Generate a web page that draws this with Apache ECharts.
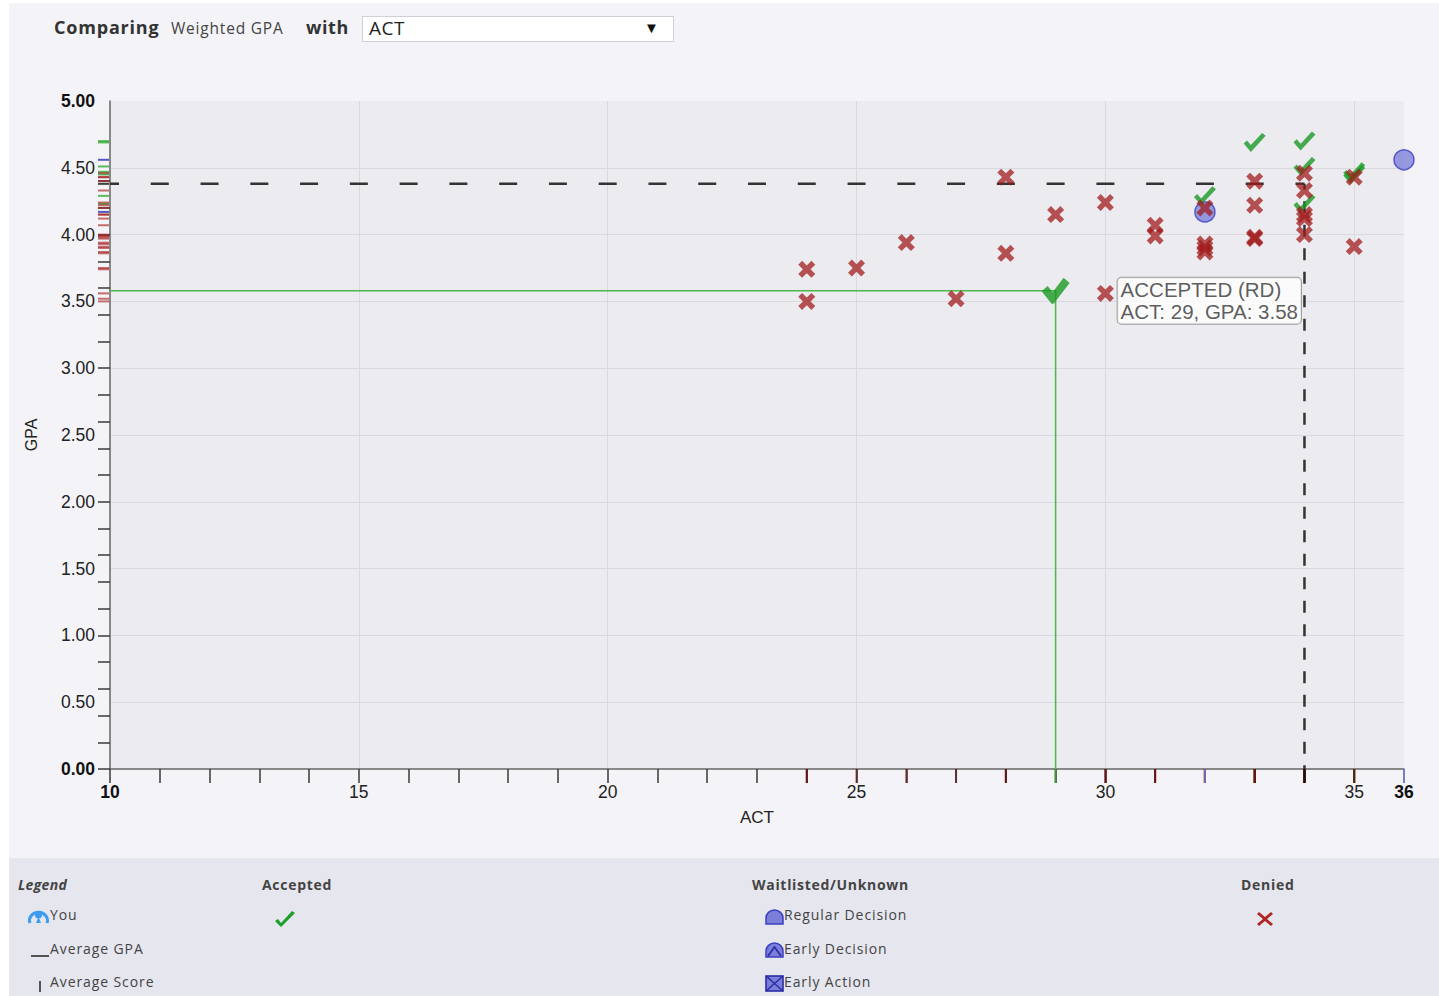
<!DOCTYPE html>
<html>
<head>
<meta charset="utf-8">
<script src="https://cdn.jsdelivr.net/npm/echarts@6/dist/echarts.min.js"></script>
<style>
  html, body { margin:0; padding:0; background:#ffffff; width:1439px; height:996px; overflow:hidden; }
  #page { position:absolute; left:9px; top:3px; width:1430px; height:993px; background:#f4f4f8; }
  #chart { position:absolute; left:0; top:0; width:1439px; height:858px; }
  .hdr { position:absolute; font-family:"Open Sans", sans-serif; color:#333; white-space:nowrap; }
  #legend { position:absolute; left:9px; top:858px; width:1430px; height:138px; background:#e6e6ef; }
  .lg { position:absolute; font-family:"Open Sans", sans-serif; font-size:14px; letter-spacing:0.9px; color:#444; white-space:nowrap; line-height:18px; }
  .lgh { font-weight:bold; letter-spacing:0.7px; }
  svg.ic { position:absolute; }
</style>
</head>
<body>
<div id="page"></div>
<div class="hdr" style="left:54px; top:15px; font-size:18px; font-weight:bold; letter-spacing:0.8px;">Comparing</div>
<div class="hdr" style="left:171px; top:17px; font-size:15.5px; color:#444; letter-spacing:0.8px;">Weighted GPA</div>
<div class="hdr" style="left:306px; top:15px; font-size:18px; font-weight:bold; letter-spacing:0.6px;">with</div>
<div style="position:absolute; left:362px; top:16px; width:310px; height:24px; background:#fff; border:1px solid #d0d0d8;"></div>
<div class="hdr" style="left:369px; top:15px; font-size:19px; color:#222; letter-spacing:0.5px;">ACT</div>
<div class="hdr" style="left:644px; top:17px; font-size:15px; color:#111;">&#9660;</div>
<div id="chart"></div>
<div id="legend"></div>
<div class="lg lgh" style="left:18px; top:876px; font-style:italic; letter-spacing:0.3px;">Legend</div>
<div class="lg lgh" style="left:262px; top:876px;">Accepted</div>
<div class="lg lgh" style="left:752px; top:876px;">Waitlisted/Unknown</div>
<div class="lg lgh" style="left:1241px; top:876px;">Denied</div>
<svg class="ic" style="left:28px; top:907px;" width="22" height="18" viewBox="0 0 22 18">
  <path d="M2,16 A9,8 0 1 1 19,16" fill="none" stroke="#3b9cf0" stroke-width="3"/>
  <circle cx="10.5" cy="8" r="3.5" fill="#3b9cf0"/>
  <path d="M8,16 L10.5,10 L13,16 Z" fill="#3b9cf0"/>
</svg>
<div class="lg" style="left:50px; top:906px;">You</div>
<svg class="ic" style="left:31px; top:950px;" width="18" height="8"><line x1="0" y1="6" x2="18" y2="6" stroke="#222" stroke-width="1.5"/></svg>
<div class="lg" style="left:50px; top:940px;">Average GPA</div>
<svg class="ic" style="left:38px; top:979px;" width="4" height="14"><line x1="2" y1="2" x2="2" y2="13" stroke="#222" stroke-width="1.5"/></svg>
<div class="lg" style="left:50px; top:973px;">Average Score</div>
<svg class="ic" style="left:275px; top:911px;" width="22" height="16" viewBox="0 0 22 16">
  <path d="M0,10 L3,8 L6,12 L17,0 L20,2 L6,16 Z" fill="#1e9e2a"/>
</svg>
<svg class="ic" style="left:765px; top:909px;" width="19" height="16" viewBox="0 0 19 16">
  <path d="M1,15 L1,9 A8.5,8 0 0 1 18,9 L18,15 Z" fill="#7b7fd8" stroke="#3b3fc4" stroke-width="1.5"/>
</svg>
<div class="lg" style="left:784px; top:906px;">Regular Decision</div>
<svg class="ic" style="left:765px; top:942px;" width="19" height="16" viewBox="0 0 19 16">
  <path d="M1,15 L1,9 A8.5,8 0 0 1 18,9 L18,15 Z" fill="#7b7fd8" stroke="#3b3fc4" stroke-width="1.5"/>
  <path d="M3,14 L9.5,5 L16,14" fill="none" stroke="#2a2ea8" stroke-width="1.8"/>
</svg>
<div class="lg" style="left:784px; top:940px;">Early Decision</div>
<svg class="ic" style="left:765px; top:975px;" width="19" height="17" viewBox="0 0 19 17">
  <rect x="1" y="1" width="17" height="15" fill="#7b7fd8" stroke="#2a2ea8" stroke-width="1.6"/>
  <path d="M1,1 L18,16 M18,1 L1,16" stroke="#2a2ea8" stroke-width="1.6"/>
</svg>
<div class="lg" style="left:784px; top:973px;">Early Action</div>
<svg class="ic" style="left:1257px; top:912px;" width="16" height="14" viewBox="0 0 16 14">
  <path d="M2,0 L8,5 L14,0 L16,2 L10,7 L16,12 L14,14 L8,9 L2,14 L0,12 L6,7 L0,2 Z" fill="#b02424"/>
</svg>
<script>
// ---- data ----
const xLabelValues = [10, 15, 20, 25, 30, 35, 36];
const xTickValues = [10, 11, 12, 13, 14, 15, 16, 17, 18, 19, 20, 21, 22, 23, 24, 25, 26, 27, 28, 29, 30, 31, 32, 33, 34, 35, 36];
const yLabelValues = [0, 0.5, 1, 1.5, 2, 2.5, 3, 3.5, 4, 4.5, 5];
const yTickValues = [0, 0.2, 0.4, 0.6, 0.8, 1.0, 1.2, 1.4, 1.6, 1.8, 2.0, 2.2, 2.4, 2.6, 2.8, 3.0, 3.2, 3.4, 3.6, 3.8, 4.0, 4.2, 4.4];
const deniedPoints = [
  [24, 3.74], [24, 3.50], [25, 3.75], [26, 3.94], [27, 3.52], [28, 4.43], [28, 3.86],
  [29, 4.15], [30, 4.24], [30, 3.56], [31, 4.07], [31, 3.99], [32, 4.20], [32, 3.93],
  [32, 3.90], [32, 3.87], [33, 4.40], [33, 4.22], [33, 3.98], [33, 3.97], [34, 4.46],
  [34, 4.33], [34, 4.15], [34, 4.12], [34, 4.00], [35, 4.43], [35, 3.91]
];
const acceptedPoints = [[32, 4.29], [33, 4.69], [34, 4.70], [34, 4.51], [34, 4.23], [35, 4.47], [35, 4.45]];
const selectedPoint = [29, 3.58];
const selectedDecision = 'ACCEPTED (RD)';
const waitlistedPoints = [[32, 4.17], [36, 4.56]];
const averageScore = 34;
const averageGpa = 4.38;
const xMin = 10, xMax = 36, yMin = 0, yMax = 5;

// ---- symbols ----
const xSym = 'path://M3.6,0 L8,4.4 L12.4,0 L16,3.6 L11.6,8 L16,12.4 L12.4,16 L8,11.6 L3.6,16 L0,12.4 L4.4,8 L0,3.6 Z';
const checkSym = 'path://M0,10 L3.2,7.2 L7,11.5 L18,0 L21.5,2.8 L7,18 Z';
const bigCheckSym = 'path://M0,14 L6,9 L11,15 L22,1 L28,6 L12,26 L10,26 Z';

const DENIED = 'rgba(160,24,24,0.92)';
const GREEN = '#1c9a24';

const chart = echarts.init(document.getElementById('chart'), null, { renderer: 'svg' });

function rugY(points, color) {
  return { type: 'scatter', clip: false, silent: true, symbol: 'rect', symbolSize: [11, 2], symbolOffset: [-6.5, 0],
    itemStyle: { color: color }, data: points.map(p => [xMin, p[1]]), z: 6 };
}
function rugX(points, color) {
  return { type: 'scatter', clip: false, silent: true, symbol: 'rect', symbolSize: [2, 14], symbolOffset: [0, 7],
    itemStyle: { color: color }, data: points.map(p => [p[0], yMin]), z: 6 };
}
const labelFont = 'Liberation Sans, Arial, sans-serif';
const boldRich = { b: { fontWeight: 'bold', fontSize: 17.5, color: '#111', fontFamily: labelFont } };

const option = {
  animation: false,
  backgroundColor: 'transparent',
  grid: { left: 110, top: 101, width: 1294, height: 668, show: true, backgroundColor: '#ebebf0', borderWidth: 0 },
  xAxis: [{
    type: 'value', min: xMin, max: xMax, interval: 5, position: 'bottom',
    name: 'ACT', nameLocation: 'middle', nameGap: 40,
    nameTextStyle: { fontSize: 17, color: '#222', fontFamily: labelFont },
    axisLine: { show: true, onZero: false, lineStyle: { color: '#666', width: 1.5 } },
    axisTick: { show: false },
    axisLabel: { customValues: xLabelValues, margin: 14, fontSize: 17.5, color: '#222', fontFamily: labelFont,
      formatter: v => (v === xMin || v === xMax) ? '{b|' + v + '}' : String(v), rich: boldRich },
    splitLine: { show: true, showMinLine: false, showMaxLine: false, lineStyle: { color: '#d9d9df', width: 1 } }
  }, {
    type: 'value', min: xMin, max: xMax, interval: 1, position: 'bottom',
    axisLine: { show: false, onZero: false },
    axisTick: { show: true, customValues: xTickValues, length: 14, lineStyle: { color: '#3a3a3a', width: 1.5 } },
    axisLabel: { show: false }, splitLine: { show: false }
  }],
  yAxis: [{
    type: 'value', min: yMin, max: yMax, interval: 0.5, position: 'left',
    name: 'GPA', nameLocation: 'middle', nameGap: 71, nameRotate: 90,
    nameTextStyle: { fontSize: 16, color: '#222', fontFamily: labelFont },
    axisLine: { show: true, onZero: false, lineStyle: { color: '#666', width: 1.5 } },
    axisTick: { show: false },
    axisLabel: { customValues: yLabelValues, margin: 15, fontSize: 17.5, color: '#222', fontFamily: labelFont,
      formatter: v => (v === yMin || v === yMax) ? '{b|' + v.toFixed(2) + '}' : v.toFixed(2), rich: boldRich },
    splitLine: { show: true, showMinLine: false, showMaxLine: false, lineStyle: { color: '#d9d9df', width: 1 } }
  }, {
    type: 'value', min: yMin, max: yMax, interval: 0.2, position: 'left',
    axisLine: { show: false, onZero: false },
    axisTick: { show: true, customValues: yTickValues, length: 12, lineStyle: { color: '#3a3a3a', width: 1.5 } },
    axisLabel: { show: false }, splitLine: { show: false }
  }],
  series: [
    { type: 'line', silent: true, symbol: 'none', z: 3,
      lineStyle: { color: '#333', width: 2.5, type: [18, 31.77], dashOffset: 9 },
      data: [[xMin, averageGpa], [averageScore, averageGpa]] },
    { type: 'line', silent: true, symbol: 'none', z: 3,
      lineStyle: { color: '#333', width: 2.5, type: [12, 11.5], dashOffset: 6 },
      data: [[averageScore, averageGpa], [averageScore, yMin]] },
    { type: 'line', silent: true, symbol: 'none', z: 3,
      lineStyle: { color: '#4cb84c', width: 1.5 },
      data: [[xMin, selectedPoint[1]], [selectedPoint[0], selectedPoint[1]], [selectedPoint[0], yMin]] },
    rugY(acceptedPoints, 'rgba(40,170,40,0.95)'),
    rugY(deniedPoints, 'rgba(165,25,25,0.78)'),
    rugY(waitlistedPoints, '#2a2eb8'),
    rugY([[averageScore, averageGpa]], '#111'),
    rugX(acceptedPoints, 'rgba(40,170,40,0.9)'),
    rugX(deniedPoints, 'rgba(100,15,15,0.85)'),
    rugX([selectedPoint], '#3db43d'),
    rugX(waitlistedPoints, '#8080d8'),
    rugX([[averageScore, averageGpa]], '#111'),
    { type: 'scatter', silent: true, symbol: 'circle', symbolSize: 20, z: 7,
      itemStyle: { color: '#7e82d8', borderColor: '#3a3ec6', borderWidth: 1.5 },
      data: waitlistedPoints },
    { type: 'scatter', silent: true, symbol: checkSym, symbolSize: [22, 19], z: 8,
      itemStyle: { color: GREEN }, data: acceptedPoints },
    { type: 'scatter', silent: true, symbol: xSym, symbolSize: 17, z: 9,
      itemStyle: { color: DENIED }, data: deniedPoints },
    { type: 'scatter', silent: true, symbol: bigCheckSym, symbolSize: [28, 26], z: 10,
      itemStyle: { color: '#1a9a22' },
      label: { show: true, position: [76, 0], align: 'left', verticalAlign: 'top',
        formatter: p => selectedDecision + '\nACT: ' + p.value[0] + ', GPA: ' + p.value[1].toFixed(2),
        fontSize: 20.5, lineHeight: 22, color: '#333', fontFamily: labelFont,
        backgroundColor: '#ffffff', borderColor: '#8a8a8a', borderWidth: 1, borderRadius: 4, padding: [1, 3, 1, 3] },
      data: [selectedPoint] }
  ]
};
chart.setOption(option);
</script>
</body>
</html>
